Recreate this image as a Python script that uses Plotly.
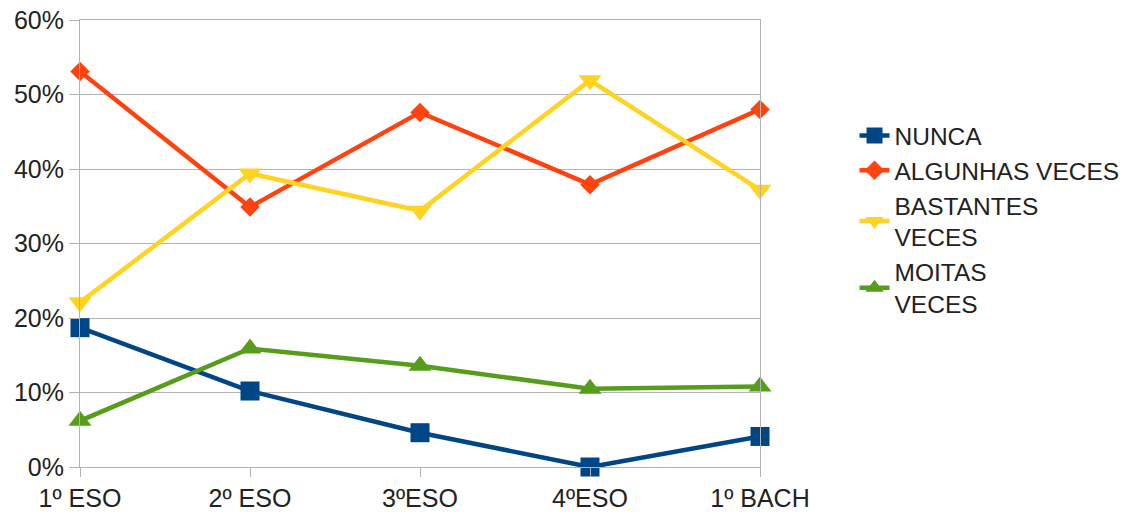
import plotly.graph_objects as go

categories = ["1º ESO", "2º ESO", "3ºESO", "4ºESO", "1º BACH"]
nunca = [0.187, 0.102, 0.046, 0.0, 0.041]
algunhas = [0.531, 0.349, 0.476, 0.379, 0.480]
bastantes = [0.221, 0.394, 0.344, 0.519, 0.372]
moitas = [0.062, 0.159, 0.136, 0.105, 0.108]
y_ticks = [0, 0.1, 0.2, 0.3, 0.4, 0.5, 0.6]

series = [
    ("NUNCA", nunca, "#004586", "square", 19),
    ("ALGUNHAS VECES", algunhas, "#ff420e", "diamond", 15),
    ("BASTANTES<br>VECES", bastantes, "#ffd320", "triangle-down", 20),
    ("MOITAS<br>VECES", moitas, "#579d1c", "triangle-up", 20),
]

fig = go.Figure()
for name, vals, color, sym, size in series:
    fig.add_trace(go.Scatter(
        x=categories, y=vals, name=name, mode="lines+markers",
        line=dict(color=color, width=4.5),
        marker=dict(symbol=sym, size=size, color=color, line=dict(width=0)),
        cliponaxis=False,
    ))

grid = "#b3b3b3"
fig.update_layout(
    width=1138, height=518,
    margin=dict(l=80, r=378, t=20, b=51, pad=0),
    paper_bgcolor="white", plot_bgcolor="white",
    font=dict(family="Liberation Sans, Arial, sans-serif", size=25, color="#222"),
    showlegend=True,
    legend=dict(x=1.139, y=0.792, xanchor="left", yanchor="top",
                font=dict(size=24.5, color="#222"), bgcolor="rgba(0,0,0,0)",
                tracegroupgap=0, itemwidth=30),
    xaxis=dict(range=[0, 4], showgrid=False, showline=True, linecolor=grid, linewidth=1,
               mirror=True, ticks="outside", ticklen=9, tickcolor=grid,
               tickfont=dict(size=25, color="#222"), automargin=False,
               ticklabeloverflow="allow"),
    yaxis=dict(range=[0, 0.6], tickvals=y_ticks, tickformat=".0%", showgrid=True,
               gridcolor=grid, gridwidth=1, zeroline=False, showline=True,
               linecolor=grid, linewidth=1, mirror=True, ticks="outside",
               ticklen=10, tickcolor=grid, tickfont=dict(size=25, color="#222"),
               automargin=False, ticklabeloverflow="allow"),
)
fig.update_xaxes(type="category")
fig.write_html("out.html", config={"displayModeBar": False},
               post_script="document.body.style.margin='0';")
